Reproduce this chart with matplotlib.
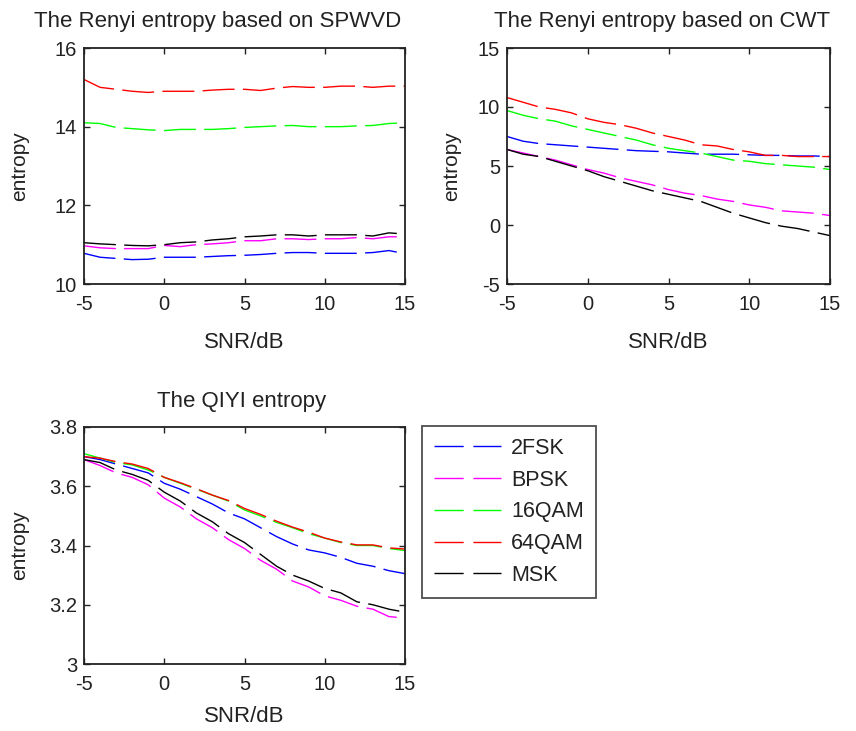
import numpy as np
import matplotlib.pyplot as plt
from matplotlib.lines import Line2D

plt.rcParams['font.family'] = ['Liberation Sans', 'DejaVu Sans']
plt.rcParams['axes.unicode_minus'] = False

snr = list(range(-5, 16))
names = ["2FSK", "BPSK", "16QAM", "64QAM", "MSK"]
colors = ["#0000ff", "#ff00ff", "#00ff00", "#ff0000", "#000000"]

# Renyi entropy based on SPWVD
spwvd_2fsk = [10.78, 10.68, 10.65, 10.62, 10.63, 10.68, 10.68, 10.68, 10.70, 10.72, 10.73,
              10.75, 10.78, 10.80, 10.80, 10.78, 10.78, 10.78, 10.80, 10.85, 10.77]
spwvd_bpsk = [10.97, 10.92, 10.90, 10.90, 10.90, 10.98, 10.95, 11.00, 11.02, 11.05, 11.10,
              11.10, 11.15, 11.15, 11.13, 11.15, 11.15, 11.18, 11.15, 11.20, 11.20]
spwvd_16qam = [14.10, 14.08, 13.98, 13.95, 13.92, 13.90, 13.93, 13.93, 13.93, 13.95, 13.98,
               14.00, 14.02, 14.03, 14.00, 14.00, 14.00, 14.02, 14.03, 14.08, 14.10]
spwvd_64qam = [15.20, 15.00, 14.95, 14.90, 14.87, 14.90, 14.90, 14.90, 14.93, 14.95, 14.95,
               14.92, 14.98, 15.02, 15.00, 15.00, 15.03, 15.03, 15.00, 15.03, 15.03]
spwvd_msk = [11.05, 11.02, 11.00, 10.98, 10.97, 11.00, 11.05, 11.07, 11.12, 11.15, 11.20,
             11.22, 11.25, 11.25, 11.22, 11.25, 11.25, 11.25, 11.22, 11.30, 11.27]

# Renyi entropy based on CWT
cwt_2fsk = [7.5, 7.1, 6.9, 6.8, 6.7, 6.6, 6.5, 6.4, 6.3, 6.25, 6.2,
            6.1, 6.0, 6.0, 6.0, 5.95, 5.9, 5.9, 5.85, 5.85, 5.8]
cwt_bpsk = [6.4, 6.1, 5.8, 5.5, 5.1, 4.7, 4.4, 4.0, 3.7, 3.4, 3.0,
            2.7, 2.5, 2.2, 2.0, 1.7, 1.5, 1.2, 1.1, 1.0, 0.8]
cwt_16qam = [9.7, 9.3, 9.0, 8.8, 8.4, 8.1, 7.8, 7.5, 7.2, 6.8, 6.5,
             6.3, 6.1, 5.8, 5.5, 5.4, 5.2, 5.1, 5.0, 4.9, 4.7]
cwt_64qam = [10.8, 10.4, 10.0, 9.8, 9.5, 9.0, 8.7, 8.5, 8.2, 7.8, 7.5,
             7.2, 6.8, 6.7, 6.4, 6.2, 5.9, 5.9, 5.8, 5.8, 5.8]
cwt_msk = [6.4, 6.0, 5.8, 5.4, 5.0, 4.6, 4.1, 3.7, 3.3, 2.9, 2.6,
           2.3, 2.0, 1.5, 1.0, 0.6, 0.2, -0.1, -0.3, -0.6, -0.9]

# QIYI entropy
qiyi_2fsk = [3.700, 3.690, 3.675, 3.660, 3.645, 3.610, 3.590, 3.565, 3.540, 3.510, 3.490,
             3.460, 3.430, 3.405, 3.385, 3.375, 3.360, 3.340, 3.330, 3.315, 3.305]
qiyi_bpsk = [3.690, 3.670, 3.645, 3.630, 3.605, 3.560, 3.530, 3.490, 3.460, 3.420, 3.390,
             3.350, 3.320, 3.280, 3.260, 3.230, 3.215, 3.195, 3.185, 3.160, 3.155]
qiyi_16qam = [3.710, 3.695, 3.680, 3.672, 3.655, 3.630, 3.610, 3.590, 3.570, 3.550, 3.520,
              3.500, 3.478, 3.460, 3.440, 3.425, 3.410, 3.400, 3.400, 3.390, 3.383]
qiyi_64qam = [3.700, 3.695, 3.683, 3.675, 3.660, 3.630, 3.612, 3.592, 3.570, 3.552, 3.525,
              3.505, 3.482, 3.462, 3.445, 3.425, 3.412, 3.402, 3.402, 3.392, 3.388]
qiyi_msk = [3.690, 3.680, 3.655, 3.640, 3.620, 3.580, 3.550, 3.510, 3.480, 3.440, 3.410,
            3.370, 3.330, 3.300, 3.280, 3.255, 3.240, 3.210, 3.200, 3.185, 3.175]

panels = [
    ("The Renyi entropy based on SPWVD",
     [spwvd_2fsk, spwvd_bpsk, spwvd_16qam, spwvd_64qam, spwvd_msk],
     (10, 16), [10, 12, 14, 16], ["10", "12", "14", "16"]),
    ("The Renyi entropy based on CWT",
     [cwt_2fsk, cwt_bpsk, cwt_16qam, cwt_64qam, cwt_msk],
     (-5, 15), [-5, 0, 5, 10, 15], ["-5", "0", "5", "10", "15"]),
    ("The QIYI entropy",
     [qiyi_2fsk, qiyi_bpsk, qiyi_16qam, qiyi_64qam, qiyi_msk],
     (3, 3.8), [3, 3.2, 3.4, 3.6, 3.8], ["3", "3.2", "3.4", "3.6", "3.8"]),
]

W, H = 856, 731
fig = plt.figure(figsize=(W / 100, H / 100), dpi=100)

# axes boxes in pixels: left, top, right, bottom
boxes = [(84, 48, 405, 284), (507, 48, 830, 284), (84, 427, 405, 664)]
# label / title centres in pixels: title x, title y, ylabel x, xlabel y
label_pos = [(218, 21, 20, 342), (662, 21, 452, 342), (242, 402, 20, 717)]

TXT = "#222222"
dash = (23, 6)
for (title, series, ylim, yt, ytl), (l, t, r, b), (tx, ty, yx, xy) in zip(panels, boxes, label_pos):
    w, h = r - l, b - t
    ax = fig.add_axes([l / W, (H - b) / H, w / W, h / H])
    for vals, c in zip(series, colors):
        ax.plot(snr, vals, color=c, lw=1.0, dashes=dash)
    ax.set_xlim(-5, 15)
    ax.set_ylim(*ylim)
    ax.set_xticks([-5, 0, 5, 10, 15])
    ax.set_yticks(yt)
    ax.set_yticklabels(ytl)
    ax.tick_params(direction="in", top=True, right=True, labelsize=14.5,
                   length=4, width=1, colors=TXT)
    ax.tick_params(axis="x", pad=8)
    ax.tick_params(axis="y", pad=5)
    for s in ax.spines.values():
        s.set_linewidth(1.3)
        s.set_color(TXT)
    ax.text((tx - l) / w, (b - ty) / h, title, transform=ax.transAxes,
            ha="center", va="center", fontsize=16, color=TXT)
    ax.set_xlabel("SNR/dB", fontsize=16, color=TXT, va="center")
    ax.xaxis.set_label_coords(0.5, (b - xy) / h)
    ax.set_ylabel("entropy", fontsize=15, color=TXT, va="center")
    ax.yaxis.set_label_coords((yx - l) / w, 0.5)

handles = [Line2D([], [], color=c, lw=1.0, dashes=(21, 7)) for c in colors]
leg = fig.legend(handles, names, loc="upper left",
                 bbox_to_anchor=(422 / W, (H - 426) / H),
                 prop={"size": 15.5}, frameon=True, fancybox=False,
                 handlelength=3.1, handletextpad=0.5, labelspacing=0.5,
                 borderpad=0.55, borderaxespad=0)
for txt in leg.get_texts():
    txt.set_color(TXT)
leg.get_frame().set_edgecolor(TXT)
leg.get_frame().set_linewidth(1.3)

fig.savefig("out.png", dpi=100)
